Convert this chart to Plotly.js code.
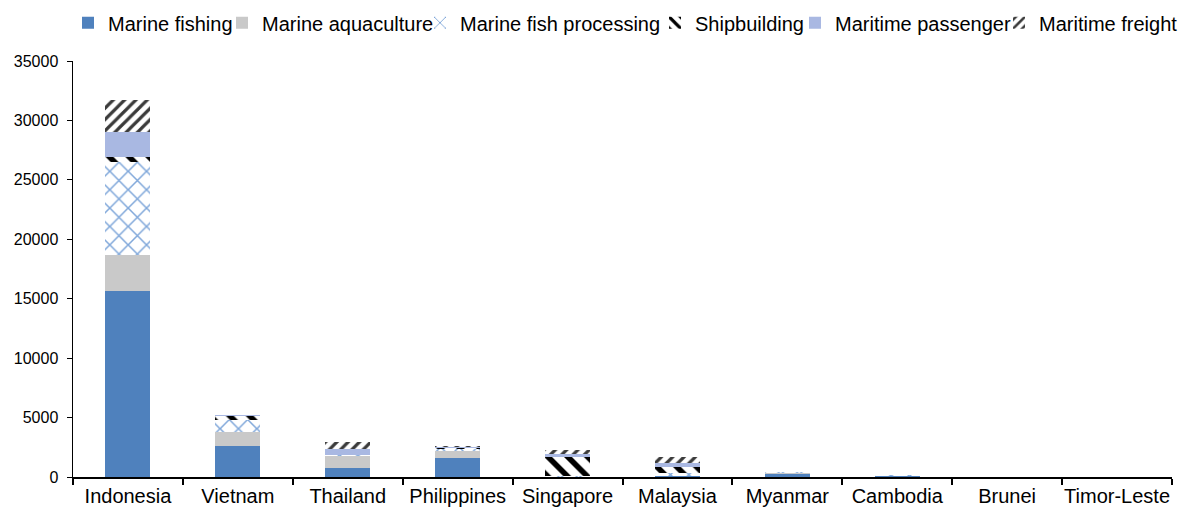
<!DOCTYPE html>
<html>
<head>
<meta charset="utf-8">
<script src="https://cdn.plot.ly/plotly-3.0.1.min.js"></script>
<style>html,body{margin:0;padding:0;background:#fff;}#chart{width:1185px;height:508px;}</style>
</head>
<body>
<div id="chart"></div>
<script>
var countries = ["Indonesia","Vietnam","Thailand","Philippines","Singapore","Malaysia","Myanmar","Cambodia","Brunei","Timor-Leste"];
var marineFishing      = [15650, 2600, 780, 1630,   20,  60, 280, 60, 5, 5];
var marineAquaculture  = [3000, 1200, 1000, 560,   10,  20,  20, 40, 2, 2];
var marineFishProc     = [7850, 1000,   30, 200,   30, 250, 100, 60, 3, 2];
var shipbuilding       = [400,   350,   20,  80, 1600, 530,   5,  5, 2, 0];
var maritimePassenger  = [2100,   30,  500,  50,  300, 300,   5,  5, 2, 1];
var maritimeFreight    = [2700,   50,  620, 130,  330, 560,  20,  5, 2, 1];

var seriesNames = ["Marine fishing","Marine aquaculture","Marine fish processing","Shipbuilding","Maritime passenger","Maritime freight"];
var seriesVals = [marineFishing, marineAquaculture, marineFishProc, shipbuilding, maritimePassenger, maritimeFreight];
var styles = [
  {color:"#4f81bd"},
  {color:"#c9c9c9"},
  {color:"#ffffff", pattern:{shape:"x", fgcolor:"#7fa7da", bgcolor:"#ffffff", size:13, solidity:0.22}},
  {color:"#ffffff", pattern:{shape:"\\", fgcolor:"#000000", bgcolor:"#ffffff", size:14, solidity:0.4}},
  {color:"#a9b8e2"},
  {color:"#ffffff", pattern:{shape:"/", fgcolor:"#3a3a3a", bgcolor:"#ffffff", size:8, solidity:0.4}}
];
// left edge (px) of each single-entry legend box
var legendLeftPx = [76, 230, 428, 663, 803, 1007];
var legendIds = ["legend","legend2","legend3","legend4","legend5","legend6"];

var traces = seriesNames.map(function(n,i){
  var m = {color: styles[i].color, line:{width:0}};
  if (styles[i].pattern) m.pattern = styles[i].pattern;
  return {type:"bar", name:n, x:countries, y:seriesVals[i], marker:m, legend:legendIds[i]};
});

var L = 73, W = 1099;
var layout = {
  width:1185, height:508,
  barmode:"stack", bargap:0.59,
  margin:{l:73, r:13, t:61, b:31, autoexpand:false},
  paper_bgcolor:"#fff", plot_bgcolor:"#fff",
  font:{family:"Liberation Sans, Arial, sans-serif", color:"#000"},
  showlegend:true,
  xaxis:{showline:true, linecolor:"#000", linewidth:2, ticks:"outside", tickson:"boundaries",
         ticklen:6, tickcolor:"#000", tickwidth:2, tickfont:{size:20, color:"#000"}, tickangle:0,
         automargin:false, showgrid:false, fixedrange:true},
  yaxis:{range:[0,35000], dtick:5000, showline:true, linecolor:"#000", linewidth:1.5,
         ticks:"outside", ticklen:5, tickcolor:"#000", tickfont:{size:16, color:"#000"},
         ticklabelstandoff:5,
         showgrid:false, zeroline:false, automargin:false, tickformat:"d"}
};
legendIds.forEach(function(id,i){
  layout[id] = {orientation:"h", x:(legendLeftPx[i]-L)/W, xanchor:"left", y:1.092, yanchor:"middle",
                font:{size:20, color:"#000"}, itemwidth:30, indentation:-8,
                bgcolor:"rgba(0,0,0,0)", borderwidth:0};
});
Plotly.newPlot("chart", traces, layout, {displayModeBar:false, staticPlot:true});
</script>
</body>
</html>
